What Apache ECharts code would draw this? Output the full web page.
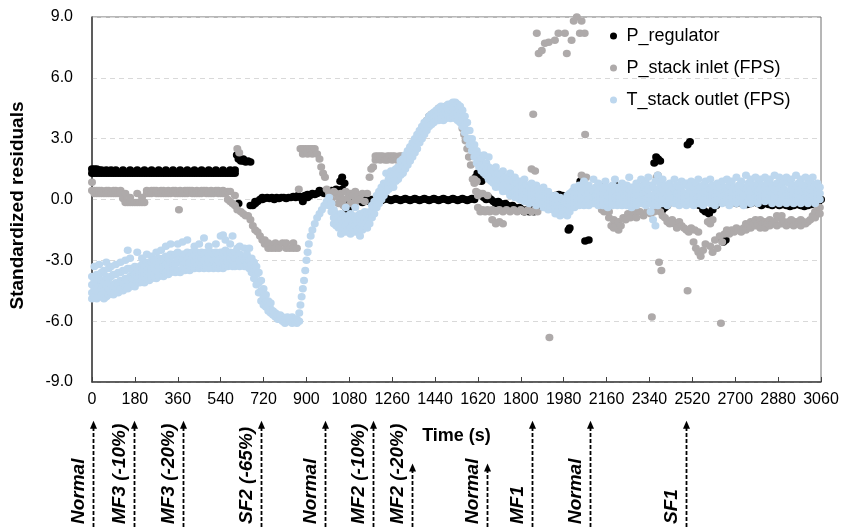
<!DOCTYPE html>
<html><head><meta charset="utf-8">
<script src="https://cdn.jsdelivr.net/npm/echarts/dist/echarts.min.js"></script>
<style>html,body{margin:0;padding:0;background:#fff}#c{width:842px;height:527px}</style>
</head><body><div id="c"></div>
<script>
// ---------------- DATA ----------------
const seriesNames = ['P_regulator', 'P_stack inlet (FPS)', 'T_stack outlet (FPS)'];
const xTickStep = 180, xMin = 0, xMax = 3060;
const yMin = -9, yMax = 9, yTickStep = 3;

// rows: [time (s), residual values observed around that time ...]
const pRegulatorRows = [
[0,1.3,1.5],[10,1.5,1.3],[20,1.3,1.5],[30,1.3,1.45],[40,1.3,1.45],[50,1.3],[60,1.3,1.45],[70,1.3],[80,1.3,1.45],[90,1.3],
[100,1.3,1.45],[110,1.3],[120,1.3],[130,1.3,1.45],[140,1.3],[150,1.3],[160,1.3,1.45],[170,1.3],[180,1.3],[190,1.3,1.45],
[200,1.3],[210,1.3],[220,1.3,1.45],[230,1.3],[240,1.3],[250,1.3,1.45],[260,1.3],[270,1.3],[280,1.3,1.45],[290,1.3],
[300,1.3],[310,1.3,1.45],[320,1.3],[330,1.3],[340,1.3,1.45],[350,1.3],[360,1.3],[370,1.3,1.45],[380,1.3],[390,1.3],
[400,1.3,1.45],[410,1.3],[420,1.3],[430,1.3,1.45],[440,1.3],[450,1.3],[460,1.3,1.45],[470,1.3],[480,1.3],[490,1.3,1.45],
[500,1.3],[510,1.3],[520,1.3,1.45],[530,1.3],[540,1.3],[550,1.3,1.45],[560,1.3],[570,1.3],[580,1.45,1.3],[590,1.3],[600,1.45,1.3],
[608,2.2],[615,2.0,-0.2],[625,1.9],[635,1.9,2.0],[645,1.85],[655,1.9],[665,1.85,-0.3],
[675,-0.3],[685,-0.2,-0.1],[695,-0.1],[705,0.0],[715,0.0,0.1],[725,0.05],[735,0.1],[745,0.05],[755,0.1],[765,0.0],
[775,0.1],[785,0.05],[795,0.1],[805,0.1],[815,0.05],[825,0.1],[835,0.1],[845,0.15],[855,0.1],[865,0.2],
[875,0.1],[885,-0.1,0.15],[895,0.2],[905,0.1,0.25],[915,0.2],[925,0.3],[935,0.25],[945,0.3],[955,0.45],[965,0.35],
[975,0.3],[985,0.35],[995,0.4],[1005,0.45],[1015,0.4],[1025,0.5],[1035,0.45],[1042,0.9],[1050,1.1,0.5],[1060,0.8],
[1065,-0.4],[1075,-0.5,0.0],[1085,0.1],[1095,0.0],[1105,-0.1],[1115,0.1],[1125,0.0],[1135,-0.15],[1145,0.05],[1155,0.0],
[1165,-0.1],[1175,0.0],[1185,0.0],[1195,0.05],[1205,0.0],[1215,-0.05],[1225,0.0],[1235,0.05],[1245,0.0],[1255,-0.05],
[1265,0.0],[1275,0.05],[1285,0.0],[1295,-0.05],[1305,0.0],[1315,0.05],[1325,0.0],[1335,-0.05],[1345,0.0],[1355,0.05],
[1365,0.0],[1375,-0.05],[1385,0.0],[1395,0.05],[1405,0.0],[1415,-0.05],[1425,0.0],[1435,0.05],[1445,0.0],[1455,-0.05],
[1465,0.0],[1475,0.05],[1485,0.0],[1495,-0.05],[1505,0.0],[1515,0.05],[1525,0.0],[1535,-0.05],[1545,0.0],[1555,0.05],
[1565,0.0],[1575,-0.05],[1585,0.0],[1595,0.05],[1605,0.0],[1610,1.1],[1618,1.3],[1625,1.2,0.3],[1635,0.9,0.2],[1645,0.1],
[1655,0.0],[1665,0.1],[1675,0.0],[1685,-0.1],[1695,-0.2],[1705,-0.1],[1715,-0.2],[1725,-0.3],[1735,-0.2],[1745,-0.3],
[1755,-0.4],[1765,-0.3],[1775,-0.4],[1785,-0.5],[1795,-0.4],[1805,-0.5],[1815,-0.6],[1825,-0.5],[1835,-0.6],[1845,-0.5],
[1855,-0.6],[1865,-0.5],[1875,-0.4],[1890,-0.3],[1910,-0.2],[1930,0.0],[1945,0.2],[1960,0.25],[1975,0.2],[1990,0.1],
[2000,-1.5],[2005,-1.4],[2020,0.3],[2035,0.5],[2050,0.9],[2060,1.0],[2070,-2.05],[2075,0.5],[2085,-2.0],[2090,0.3],
[2105,0.2],[2120,0.6],[2130,0.7],[2140,0.5],[2150,0.6],[2165,0.4],[2180,0.6],[2195,0.7],[2205,0.5],[2220,0.3],
[2235,0.2],[2250,0.1],[2265,0.2],[2280,0.0],[2295,0.1],[2310,0.2],[2325,0.1],[2340,0.2],[2360,1.8],[2368,2.1],
[2376,2.0],[2385,1.9],[2395,-0.5],[2405,-0.4],[2415,-0.3],[2430,0.0],[2445,0.1],[2460,0.0],[2475,0.0],[2490,-0.1],
[2500,2.7],[2510,2.85],[2520,0.0],[2535,-0.1],[2550,-0.3],[2565,-0.5],[2575,-0.6],[2590,-0.7],[2605,-0.5],[2620,-0.3],
[2640,-1.9],[2650,-2.1],[2660,-2.0],[2675,-0.2],[2690,-0.1],[2705,-0.2],[2720,-0.15],[2735,-0.2],[2750,-0.25],[2765,-0.2],
[2780,-0.1],[2795,-0.2],[2810,-0.3],[2825,-0.2],[2840,-0.25],[2855,-0.3],[2870,-0.2],[2885,-0.3],[2900,-0.25],[2915,-0.3],
[2930,-0.35],[2945,-0.3],[2960,-0.25],[2975,-0.3],[2990,-0.35],[3005,-0.3],[3020,-0.25],[3035,-0.2],[3050,-0.1],[3060,0.0]
];

const pStackInletRows = [
[0,0.85,0.45],[10,0.45,0.3],[20,0.3,0.45],[30,0.3,0.45],[40,0.45,0.3],[50,0.3],[60,0.45,0.3],[70,0.3,0.45],[80,0.3],[90,0.45,0.3],
[100,0.3,0.45],[110,0.3],[120,0.45,0.3],[130,0.05],[140,-0.15,0.3],[150,-0.15],[160,-0.15,0.1],[170,-0.15],[180,-0.15],[190,-0.15,0.3],
[200,-0.15],[210,0.1,-0.15],[220,-0.15],[230,0.3,0.45],[240,0.3],[250,0.45,0.3],[260,0.45],[270,0.3,0.45],[280,0.3],[290,0.45,0.3],
[300,0.3,0.45],[310,0.3],[320,0.45,0.3],[330,0.3],[340,0.45],[350,0.3,0.45],[360,0.3],[365,-0.5],[370,0.45,0.3],[380,0.3],[390,0.45,0.3],
[400,0.3,0.45],[410,0.45],[420,0.3,0.45],[430,0.3],[440,0.45,0.3],[450,0.3],[460,0.45,0.3],[470,0.45],[480,0.3,0.45],[490,0.3],
[500,0.45,0.3],[510,0.3],[520,0.45],[530,0.3,0.45],[540,0.3],[550,0.45,0.3],[560,0.3],[570,0.0,0.4],[580,-0.1,0.4],[590,-0.2],
[600,-0.3,0.2],[610,2.5,-0.5],[618,2.3],[625,-0.6],[635,-0.7],[645,-0.8],[655,-0.8],[665,-1.0],[675,-1.3],[685,-1.5],
[695,-1.6],[705,-1.8],[715,-2.0],[725,-2.2,-2.0],[740,-2.4,-2.15],[755,-2.4],[770,-2.15,-2.4],[785,-2.4],[800,-2.15],[815,-2.4,-2.15],
[830,-2.4],[845,-2.15,-2.4],[860,-2.4],[868,0.5],[875,2.5],[885,2.25,2.5],[895,2.5],[905,2.25,2.5],[915,2.5],[925,2.25,2.5],
[935,2.5],[945,2.25],[955,2.0],[962,1.6],[970,1.3],[978,1.1],[985,0.5],[995,0.3],[1005,0.0],[1015,0.4],
[1025,0.3],[1035,0.1,-0.2],[1045,0.3],[1055,0.0,-0.3],[1065,0.4],[1075,0.1],[1085,-0.2,0.3],[1095,0.2],[1105,0.4,-0.1],[1115,0.2],
[1125,0.0],[1135,0.3],[1145,-0.1],[1155,0.3],[1165,1.1],[1172,1.5],[1180,1.6],[1190,1.95,2.15],[1200,2.15],[1210,1.95,2.15],
[1220,2.15],[1230,1.95],[1240,2.15,1.95],[1250,2.15],[1260,1.95,2.15],[1270,2.15],[1280,1.95],[1290,2.15,1.95],[1300,2.15],[1310,1.95,2.15],
[1320,2.15],[1330,2.15],[1340,2.15],[1350,2.4],[1360,2.8],[1370,3.0],[1385,3.4],[1395,3.6],[1405,3.9],[1415,4.1],
[1425,4.2],[1440,4.3],[1455,4.5],[1470,4.5],[1485,4.6],[1500,4.6],[1515,4.6],[1530,4.6],[1545,4.4],[1555,3.5],
[1562,3.2],[1568,2.9],[1575,2.5],[1582,2.1],[1590,1.7],[1598,1.0],[1605,0.8,1.0],[1612,0.4],[1615,0.9],[1620,-0.4,0.2],
[1630,-0.6,0.3],[1640,-0.5,0.3],[1650,-0.6],[1660,-0.5,0.2],[1670,-0.6],[1680,-1.0,-0.5],[1695,-1.2,-0.6],[1710,-1.1,-0.5],[1725,-1.2,-0.6],[1740,-0.5],
[1755,-0.6],[1770,-0.5],[1785,-0.6],[1800,-0.5],[1815,-0.6],[1830,-0.5],[1845,1.5,-0.6],[1852,4.2],[1860,1.4,-0.5],[1870,-0.6],
[1867,8.2],[1875,7.2],[1888,7.35],[1901,7.7],[1917,7.75],[1920,-6.8],[1943,7.85],[1958,8.2],[1985,8.2],[1993,7.2],
[2013,7.85],[2022,8.8],[2035,9.0],[2048,8.2],[2055,8.8,1.2],[2068,8.2],[2070,3.2],[2075,1.1],
[2140,-0.5],[2150,-0.6],[2160,-0.5],[2170,-0.9,-0.6],[2180,-1.3],[2190,-1.0,-1.4],[2200,-1.3],[2210,-1.1,-1.5],[2220,-1.3],[2230,-0.9],
[2240,-1.0],[2250,-0.7],[2260,-0.9],[2270,-0.6],[2285,-0.6,-0.9],[2300,-0.6],[2315,-0.8],[2330,-0.6],[2345,-0.7],[2350,-5.8],
[2360,-0.6],[2370,1.1],[2375,1.2],[2380,-3.1],[2385,-0.6],[2390,-3.5],[2395,-0.8],[2405,-0.9],[2415,-1.1],[2425,-1.2],
[2435,-1.0],[2445,-1.2],[2455,-1.4],[2465,-1.1],[2475,-1.3],[2485,-1.4],[2495,-1.5],[2500,-4.5],[2505,-1.6],[2515,-1.4],
[2525,-2.1],[2530,-1.5],[2535,-2.4],[2545,-2.6,-1.6],[2555,-2.8],[2565,-2.5],[2575,-2.2],[2585,-1.1],[2595,-1.2,-2.3],[2605,-1.0,-2.6],
[2615,-2.0],[2625,-2.4],[2635,-1.8],[2640,-6.1],[2645,-2.1],[2655,-1.7],[2665,-1.5],[2675,-1.7],[2685,-1.5],[2695,-1.6],
[2705,-1.4],[2715,-1.5],[2725,-1.6],[2735,-1.4],[2745,-1.2,-1.5],[2755,-1.3],[2765,-1.1,-1.4],[2775,-1.2],[2785,-1.3,-1.0],[2795,-1.2],
[2805,-1.0,-1.4],[2815,-1.2],[2825,-1.1,-1.4],[2835,-1.2],[2845,-1.0,-1.3],[2855,-1.2],[2865,-1.1],[2875,-0.8,-1.3],[2885,-0.9],[2895,-1.2,-0.8],
[2905,-1.1],[2915,-1.3],[2925,-1.1],[2935,-1.2,-1.0],[2945,-1.3],[2955,-1.1],[2965,-1.2],[2975,-1.0,-1.3],[2985,-1.1],[2995,-1.2],
[3005,-1.1],[3015,-1.0],[3025,-0.8],[3035,-0.6,-0.9],[3045,-0.5],[3055,-0.4,-0.7]
];

const tStackOutletRows = [
[0,-4.9,-4.6,-4.2,-3.8],[10,-4.8,-4.4,-4.0,-3.3],[20,-4.9,-4.5,-4.1,-3.7],[30,-4.8,-4.3,-3.9,-3.2],[40,-4.7,-4.4,-4.0,-3.6],
[50,-4.9,-4.5,-4.1,-3.5],[60,-4.8,-4.2,-3.8,-3.1],[70,-4.7,-4.4,-3.9,-3.4],[80,-4.6,-4.2,-3.8,-3.3],[90,-4.7,-4.3,-3.7],
[100,-4.5,-4.1,-3.7,-3.2],[110,-4.6,-4.2,-3.6],[120,-4.4,-4.0,-3.6,-3.1],[130,-4.5,-4.1,-3.5],[140,-4.3,-3.9,-3.5,-3.0],
[150,-4.4,-4.0,-3.4,-2.5],[160,-4.3,-3.8,-3.4,-2.9],[170,-4.2,-3.9,-3.5],[180,-4.3,-3.7,-3.3],[190,-4.1,-3.8,-3.4,-2.6],
[200,-4.1,-3.7,-3.3],[210,-4.0,-3.6,-3.2,-2.9],[220,-4.1,-3.7,-3.3],[230,-3.9,-3.5,-3.1,-2.7],[240,-4.0,-3.6,-3.2],
[250,-3.9,-3.5,-3.1,-2.8],[260,-3.8,-3.4,-3.0],[270,-3.9,-3.5,-3.1,-2.6],[280,-3.8,-3.3,-2.9],[290,-3.7,-3.4,-3.0,-2.5],
[300,-3.8,-3.3,-2.9],[310,-3.6,-3.2,-2.8,-2.3],[320,-3.7,-3.3,-2.9],[330,-3.6,-3.1,-2.7,-2.2],[340,-3.5,-3.2,-2.8],
[350,-3.6,-3.2,-2.7],[360,-3.5,-3.0,-2.6,-2.2],[370,-3.6,-3.1,-2.8],[380,-3.4,-3.0,-2.7,-2.1],[390,-3.5,-3.1,-2.7],
[400,-3.4,-3.0,-2.6,-2.0],[410,-3.5,-3.1,-2.8],[420,-3.3,-2.9,-2.6],[430,-3.4,-3.0,-2.7,-2.3],[440,-3.3,-2.9,-2.6],
[450,-3.4,-3.0,-2.7,-2.2],[460,-3.3,-2.9,-2.6],[470,-3.4,-3.0,-2.7,-1.9],[480,-3.3,-2.9,-2.6],[490,-3.4,-3.0,-2.7,-2.3],
[500,-3.3,-2.9,-2.6],[510,-3.4,-3.0,-2.7],[520,-3.3,-2.9,-2.6,-2.2],[530,-3.4,-3.0,-2.7],[540,-3.3,-2.9,-2.6,-1.8],
[550,-3.4,-3.0,-2.6,-1.75],[560,-3.3,-2.9,-2.5,-2.0],[570,-3.3,-3.0,-2.7],[580,-3.2,-2.9,-2.6,-2.2],[590,-3.3,-3.0,-2.7,-1.8],
[600,-3.3,-2.9,-2.6],[610,-3.2,-2.9,-2.4],[620,-3.3,-3.0,-2.7,-2.3],[630,-3.2,-2.9],[640,-3.3,-3.0,-2.4],
[650,-3.2,-2.9,-2.7],[660,-3.4,-3.0,-2.4],[670,-3.6,-3.2,-2.9],[680,-3.9,-3.4,-3.1],[690,-4.2,-3.7,-3.3],
[700,-4.6,-4.1,-3.6],[710,-5.0,-4.5,-4.0],[720,-5.2,-4.8,-4.4],[730,-5.3,-5.0,-4.7],[740,-5.5,-5.2,-5.0],
[750,-5.6,-5.4,-5.1],[760,-5.7,-5.5],[770,-5.8,-5.6],[780,-5.9,-5.7],[790,-5.9,-5.7],[800,-6.0,-5.8],[810,-6.1,-5.9],
[820,-6.0,-5.8],[830,-6.0,-5.9],[840,-6.1,-5.8],[850,-6.0,-5.9],[860,-6.1,-5.9],[870,-6.0,-5.6],[875,-5.2],[880,-4.8],
[885,-4.4],[890,-4.0],[895,-3.5],[900,-3.0],[905,-2.6],[910,-2.2],[918,-1.8],[925,-1.5],[935,-1.2],[945,-0.9],
[955,-0.7],[965,-0.5],[975,-0.3],[985,-0.1],[995,0.1,-0.3],[1005,-0.2,-0.6],[1015,-0.5,-0.9,-1.2],[1025,-0.7,-1.0,-1.3],
[1035,-0.8,-1.1,-1.4],[1045,-0.7,-1.0,-1.4,-1.7],[1055,-0.8,-1.2,-1.5],[1065,-0.4,-0.9,-1.3,-1.6],[1075,-0.8,-1.1,-1.5],
[1085,-0.7,-1.0,-1.4,-1.7],[1095,-0.8,-1.2,-1.5],[1105,-0.4,-0.9,-1.3,-1.6],[1115,-0.8,-1.1,-1.5],[1125,-0.7,-1.0,-1.4,-1.8],
[1135,-0.8,-1.2,-1.5],[1145,-0.6,-1.0,-1.3],[1155,-0.7,-1.1,-1.4],[1165,-0.6,-0.9,-1.2],[1175,-0.3,-0.6,-0.9],
[1185,-0.1,-0.4,-0.7],[1195,0.2,-0.1,-0.4],[1205,0.4,0.1,-0.2],[1215,0.6,0.3,0.0],[1225,0.8,0.5,0.2],[1235,1.3,0.7,0.4],
[1245,1.0,0.7,0.5],[1255,1.4,1.1,0.8],[1265,1.2,0.9,0.6],[1275,1.5,1.2,0.9],[1285,1.6,1.3,1.0],[1295,1.9,1.5,1.2],
[1305,2.0,1.6,1.3],[1315,2.2,1.8,1.5],[1325,2.4,2.0,1.7],[1335,2.6,2.2,1.9],[1345,2.8,2.4,2.1],[1355,3.0,2.6,2.3],
[1365,3.2,2.9,2.5],[1375,3.4,3.1,2.8],[1385,3.6,3.3,3.0],[1395,3.8,3.5,3.2],[1405,3.9,3.7,3.4],[1415,4.1,3.8,3.6],
[1425,4.2,3.9,3.7],[1435,4.3,4.0,3.8],[1445,4.4,4.1,3.9],[1455,4.5,4.2,3.9],[1465,4.6,4.3,4.0],[1475,4.5,4.2,3.9],
[1485,4.6,4.3,4.0],[1495,4.7,4.4,4.1],[1505,4.7,4.4,4.0],[1515,4.8,4.5,4.1],[1525,4.8,4.4,4.0],[1535,4.7,4.3,3.9],
[1545,4.6,4.2,3.8],[1555,4.4,4.0,3.6],[1565,4.1,3.7,3.3],[1575,3.8,3.4,3.0],[1585,3.4,3.0,2.7],[1595,3.0,2.7,2.4],
[1605,2.7,2.4,2.1],[1615,2.4,2.1,1.8],[1625,2.2,1.9,1.6],[1635,2.0,1.7,1.4],[1645,2.2,1.6,1.3],[1655,1.8,1.5,1.2],
[1665,2.1,1.6,1.3,1.0],[1675,1.5,1.2,0.9],[1685,1.4,1.1,0.8],[1695,1.6,1.2,0.9,0.6],[1705,1.3,1.0,0.7],[1715,1.2,0.9,0.6],
[1725,1.4,1.0,0.7,0.4],[1735,1.1,0.8,0.5],[1745,1.0,0.7,0.4],[1755,1.3,0.8,0.5,0.2],[1765,0.9,0.6,0.3],[1775,1.1,0.7,0.4,0.1],
[1785,0.8,0.5,0.2],[1795,0.9,0.6,0.3,0.0],[1805,0.7,0.4,0.1],[1815,1.0,0.6,0.3,-0.1],[1825,0.7,0.4,0.1],[1835,0.6,0.3,0.0,-0.2],
[1845,0.8,0.4,0.1],[1855,0.5,0.2,-0.1],[1865,0.7,0.3,0.0,-0.3],[1875,0.5,0.2,-0.1],[1885,0.4,0.1,-0.2],[1895,0.6,0.2,-0.1,-0.4],
[1905,0.3,0.0,-0.3],[1915,0.4,0.1,-0.2,-0.5],[1925,0.2,-0.1,-0.4],[1935,0.1,-0.2,-0.5],[1945,0.2,-0.2,-0.5,-0.7],[1955,0.0,-0.3,-0.6],
[1965,0.1,-0.3,-0.6,-0.8],[1975,0.0,-0.4,-0.7],[1985,-0.1,-0.4,-0.7],[1995,0.2,-0.2,-0.5,-0.8],[2005,0.3,0.0,-0.3,-0.6],[2015,0.4,0.1,-0.2],
[2025,0.6,0.2,-0.1,-0.4],[2035,0.5,0.1,-0.2],[2045,0.7,0.3,0.0,-0.3],[2055,0.5,0.2,-0.1],[2065,0.9,0.4,0.0,-0.3],[2075,0.6,0.2,-0.1],
[2085,0.7,0.3,0.0,-0.3],[2095,0.5,0.1,-0.2],[2105,1.0,0.4,0.1,-0.2],[2115,0.6,0.2,-0.1],[2125,0.8,0.4,0.0,-0.3],[2135,0.5,0.2,-0.1],
[2145,0.6,0.3,0.0,-0.3],[2155,0.9,0.4,0.1],[2165,0.6,0.2,-0.1,-0.4],[2175,0.5,0.1,-0.2],[2185,0.7,0.3,0.0,-0.3],[2195,1.0,0.4,0.1],
[2205,0.6,0.2,-0.1,-0.3],[2215,0.5,0.1,-0.2],[2225,0.8,0.4,0.0,-0.3],[2235,0.6,0.2,-0.1],[2245,0.7,0.3,0.0,-0.3],[2255,1.1,0.5,0.1],
[2265,0.6,0.2,-0.1,-0.4],[2275,0.5,0.1,-0.2],[2285,0.8,0.4,0.0,-0.3],[2295,0.6,0.2,-0.1],[2305,1.0,0.5,0.1,-0.2],[2315,0.7,0.3,0.0],
[2325,0.8,0.4,0.0,-0.3],[2335,1.1,0.5,0.1],[2345,0.7,0.2,-0.2,-0.6],[2355,0.6,0.1,-0.3,-1.0],[2365,0.9,0.4,0.0,-1.3],[2375,1.2,0.5,0.1,-0.3],
[2385,0.8,0.4,0.0],[2395,1.0,0.5,0.1,-0.2],[2405,0.7,0.3,0.0],[2415,0.6,0.2,-0.1,-0.3],[2425,0.8,0.4,0.0],[2435,0.6,0.2,-0.1],
[2445,1.0,0.5,0.1,-0.2],[2455,0.7,0.3,0.0],[2465,0.6,0.2,-0.1,-0.3],[2475,0.9,0.4,0.0],[2485,0.7,0.3,-0.1],[2495,0.8,0.3,0.0,-0.3],
[2505,0.6,0.2,-0.1],[2515,0.9,0.4,0.0],[2525,0.6,0.2,-0.1,-0.3],[2535,0.8,0.3,0.0],[2545,1.0,0.4,0.1,-0.2],[2555,0.6,0.2,-0.1],
[2565,0.7,0.3,0.0,-0.3],[2575,0.9,0.4,0.1],[2585,0.6,0.2,-0.1],[2595,1.0,0.5,0.1,-0.2],[2605,0.7,0.3,0.0],[2615,0.6,0.2,-0.1,-0.3],
[2625,0.8,0.4,0.0],[2635,0.7,0.3,0.0],[2645,0.9,0.4,0.1,-0.2],[2655,0.6,0.2,-0.1],[2665,1.0,0.5,0.1],[2675,0.7,0.3,0.0,-0.3],
[2685,0.9,0.4,0.1],[2695,0.6,0.2,-0.1],[2705,1.1,0.5,0.1,-0.2],[2715,0.7,0.3,0.0],[2725,0.9,0.4,0.1],[2735,0.6,0.2,-0.1,-0.3],
[2745,1.2,0.5,0.1],[2755,0.8,0.4,0.0],[2765,1.0,0.5,0.1,-0.2],[2775,0.7,0.3,0.0],[2785,1.1,0.5,0.1],[2795,0.8,0.4,0.0,-0.2],
[2805,1.0,0.5,0.1],[2815,0.7,0.3,0.0],[2825,1.1,0.6,0.2,-0.1],[2835,0.8,0.4,0.0],[2845,1.0,0.5,0.1],[2855,0.7,0.3,0.0,-0.2],
[2865,1.2,0.5,0.1],[2875,0.8,0.4,0.0],[2885,1.1,0.5,0.1,-0.2],[2895,0.7,0.3,0.0],[2905,0.9,0.5,0.1],[2915,1.1,0.4,0.0,-0.2],
[2925,0.8,0.4,0.1],[2935,1.0,0.5,0.1],[2945,0.7,0.3,0.0,-0.2],[2955,1.2,0.5,0.1],[2965,0.8,0.4,0.0],[2975,1.0,0.5,0.1,-0.2],
[2985,0.7,0.3,0.0],[2995,1.1,0.5,0.1],[3005,0.8,0.4,0.0,-0.2],[3015,0.9,0.5,0.1],[3025,1.1,0.4,0.0],[3035,0.7,0.3,0.0,-0.2],
[3045,0.8,0.4,0.1],[3055,0.6,0.3,0.0]
];

// fault / state annotations below the time axis
const annoTimes  = [18, 189, 395, 717, 988, 1188, 1351, 1665, 1851, 2093, 2494];
const annoLabels = ['Normal', 'MF3 (-10%)', 'MF3 (-20%)', 'SF2 (-65%)', 'Normal', 'MF2 (-10%)', 'MF2 (-20%)', 'Normal', 'MF1', 'Normal', 'SF1'];
const annoArrow  = ['long', 'long', 'long', 'long', 'long', 'long', 'short', 'short', 'long', 'long', 'long'];

// ---------------- CHART ----------------
const FONT = '"Liberation Sans", Arial, sans-serif';
function flatten(rows) {
  const out = [];
  rows.forEach(r => { for (let i = 1; i < r.length; i++) out.push([r[0], r[i]]); });
  return out;
}
const ARROW_TOP = { long: 0.87, short: 0.52 };
const DOT = [8, 7.5];

const chart = echarts.init(document.getElementById('c'), null, { renderer: 'canvas' });
const option = {
  animation: false,
  textStyle: { fontFamily: FONT },
  grid: [
    { left: 89, right: 21, top: 17, bottom: 145, show: true, borderColor: '#6f6f6f', borderWidth: 1, backgroundColor: 'transparent' },
    { left: 89, right: 21, top: 405, bottom: 0 }
  ],
  legend: {
    data: seriesNames, orient: 'vertical', left: 605, top: 21,
    itemWidth: 16, itemHeight: 7, itemGap: 12, icon: 'circle', selectedMode: false,
    textStyle: { fontSize: 18, color: '#000', fontFamily: FONT, lineHeight: 20 }
  },
  xAxis: [
    {
      type: 'value', min: xMin, max: xMax, interval: xTickStep, gridIndex: 0,
      axisLine: { onZero: false, lineStyle: { color: '#404040', width: 1.5 } },
      axisTick: { inside: true, length: 5, lineStyle: { color: '#404040' } },
      axisLabel: { fontSize: 16, color: '#000', margin: 10, fontFamily: FONT, formatter: v => String(v) },
      splitLine: { show: false },
      name: 'Time (s)', nameLocation: 'middle', nameGap: 45,
      nameTextStyle: { fontSize: 18, fontWeight: 'bold', color: '#000', fontFamily: FONT }
    },
    { type: 'value', min: xMin, max: xMax, gridIndex: 1, show: false }
  ],
  yAxis: [
    {
      type: 'value', min: yMin, max: yMax, interval: yTickStep, gridIndex: 0,
      axisLine: { show: true, onZero: false, lineStyle: { color: '#404040', width: 1.5 } },
      axisTick: { show: false },
      axisLabel: { fontSize: 16, color: '#000', margin: 19, fontFamily: FONT, formatter: v => v.toFixed(1) },
      splitLine: { show: true, lineStyle: { color: '#d9d9d9', type: [5, 4], width: 1 } },
      name: 'Standardized residuals', nameLocation: 'middle', nameGap: 65, nameRotate: 90,
      nameTextStyle: { fontSize: 19, fontWeight: 'bold', color: '#000', fontFamily: FONT, padding: [0, 12, 0, 0] }
    },
    { type: 'value', min: 0, max: 1, gridIndex: 1, show: false }
  ],
  series: [
    { name: seriesNames[0], type: 'scatter', data: flatten(pRegulatorRows), symbolSize: DOT, itemStyle: { color: '#000000', opacity: 1 } },
    { name: seriesNames[1], type: 'scatter', data: flatten(pStackInletRows), symbolSize: DOT, itemStyle: { color: '#aeaaaa', opacity: 1 } },
    { name: seriesNames[2], type: 'scatter', data: flatten(tStackOutletRows), symbolSize: DOT, itemStyle: { color: '#bdd7ee', opacity: 1 } },
    {
      type: 'custom', xAxisIndex: 1, yAxisIndex: 1, silent: true, clip: false,
      data: annoTimes.map((t, i) => [t, ARROW_TOP[annoArrow[i]]]),
      renderItem: function (params, api) {
        const base = api.coord([api.value(0), 0]);
        const top = api.coord([api.value(0), api.value(1)]);
        const x = Math.round(base[0]) + 0.5;
        return {
          type: 'group',
          children: [
            { type: 'line', shape: { x1: x, y1: base[1], x2: x, y2: top[1] + 7 },
              style: { stroke: '#000', lineWidth: 1.8, lineDash: [4, 2] } },
            { type: 'polygon', shape: { points: [[x - 3.5, top[1] + 8], [x + 3.5, top[1] + 8], [x, top[1]]] },
              style: { fill: '#000' } },
            { type: 'text', x: x - 15, y: base[1] - 3, rotation: Math.PI / 2,
              style: { text: annoLabels[params.dataIndex], fill: '#000', fontSize: 19, fontWeight: 'bold',
                       fontStyle: 'italic', fontFamily: FONT, align: 'left', verticalAlign: 'middle' } }
          ]
        };
      }
    }
  ]
};
chart.setOption(option);
</script>
</body></html>
